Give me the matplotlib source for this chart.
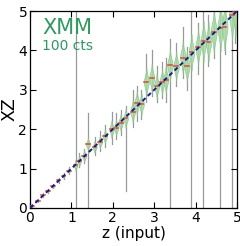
import numpy as np
import matplotlib
matplotlib.use("Agg")
import matplotlib.pyplot as plt

# violin positions (input z) and summary values
z_pos = [0.06, 0.19, 0.31, 0.44, 0.56, 0.69, 0.81, 0.94, 1.10, 1.19,
         1.31, 1.40, 1.56, 1.69, 1.81, 1.97, 2.08, 2.19, 2.31, 2.48,
         2.58, 2.69, 2.81, 2.94, 3.06, 3.19, 3.28, 3.38, 3.53, 3.69,
         3.79, 3.90, 4.06, 4.19, 4.31, 4.44, 4.60, 4.70, 4.88, 4.96]
z_med = [0.06, 0.19, 0.32, 0.44, 0.55, 0.70, 0.81, 0.95, 1.08, 1.20,
         1.32, 1.62, 1.55, 1.68, 1.82, 2.00, 2.04, 2.17, 2.28, 2.45,
         2.66, 2.64, 3.20, 3.30, 3.10, 3.20, 3.26, 3.62, 3.60, 3.82,
         3.60, 3.95, 4.08, 4.23, 4.22, 4.48, 4.58, 4.60, 4.90, 5.00]
z_lo = [0.03, 0.15, 0.27, 0.39, 0.50, 0.64, 0.74, 0.86, 0.00, 1.05,
        1.15, 0.00, 1.35, 1.45, 1.55, 1.62, 1.75, 1.85, 0.43, 2.05,
        2.20, 2.25, 2.70, 2.85, 2.70, 2.80, 2.70, 0.00, 3.10, 3.30,
        3.00, 0.00, 3.40, 0.00, 3.60, 3.80, 0.00, 3.90, 0.00, 4.20]
z_hi = [0.10, 0.23, 0.37, 0.49, 0.61, 0.76, 0.88, 1.04, 5.20, 1.40,
        1.50, 2.40, 1.80, 1.95, 2.10, 2.45, 2.40, 2.50, 2.60, 3.00,
        3.10, 3.00, 3.90, 4.00, 3.60, 3.70, 3.80, 4.30, 4.20, 4.60,
        4.10, 5.20, 4.70, 5.20, 4.90, 5.20, 5.20, 5.20, 5.20, 5.20]
# violin body extent (half height) and half width, in data units
body_h = [0.03, 0.03, 0.04, 0.04, 0.04, 0.05, 0.05, 0.08, 0.14, 0.14,
          0.15, 0.16, 0.15, 0.16, 0.18, 0.22, 0.20, 0.22, 0.24, 0.28,
          0.30, 0.28, 0.36, 0.36, 0.32, 0.32, 0.34, 0.40, 0.36, 0.42,
          0.40, 0.46, 0.46, 0.52, 0.50, 0.55, 0.60, 0.60, 0.65, 0.65]
body_w = [0.01, 0.01, 0.01, 0.015, 0.015, 0.02, 0.02, 0.03, 0.045, 0.045,
          0.05, 0.05, 0.05, 0.05, 0.05, 0.055, 0.055, 0.055, 0.055, 0.06,
          0.06, 0.06, 0.06, 0.06, 0.06, 0.06, 0.06, 0.065, 0.065, 0.065,
          0.065, 0.065, 0.065, 0.065, 0.065, 0.07, 0.07, 0.07, 0.07, 0.07]

fig = plt.figure(figsize=(2.4, 2.46), dpi=100)
ax = fig.add_axes([0.125, 0.1545, 0.8625, 0.8005])

for z, m, lo, hi, h, w in zip(z_pos, z_med, z_lo, z_hi, body_h, body_w):
    # whisker line
    ax.plot([z, z], [lo, hi], color="#999999", lw=0.9, zorder=1)
    # violin body
    t = np.linspace(-h, h, 41)
    half = w * np.exp(-0.5 * (t / (0.4 * h)) ** 2)
    ax.fill_betweenx(m + t, z - half, z + half, facecolor="#a6dba6",
                     edgecolor="#86c486", lw=0.5, alpha=0.85, zorder=2)
    # median mark
    ax.plot([z - 0.045, z + 0.045], [m, m], color="#e8452c", lw=1.1, zorder=3)

ax.plot([0, 5], [0, 5], color="#1a1a8c", lw=1.4, dashes=(2.2, 1.6), zorder=4)

ax.set_xlim(0, 5)
ax.set_ylim(0, 5)
ax.set_xticks([0, 1, 2, 3, 4, 5])
ax.set_yticks([0, 1, 2, 3, 4, 5])
ax.tick_params(direction="in", top=True, right=True, length=4, labelsize=10, pad=2)
for s in ax.spines.values():
    s.set_linewidth(0.9)
ax.set_xlabel("z (input)", fontsize=11, labelpad=1)
ax.set_ylabel("XZ", fontsize=12.5, labelpad=0)

ax.text(0.06, 0.965, "XMM", transform=ax.transAxes, color="#2e9a5e",
        fontsize=15, va="top", ha="left")
ax.text(0.06, 0.86, "100 cts", transform=ax.transAxes, color="#2e9a5e",
        fontsize=10, va="top", ha="left")

fig.savefig("out.png", dpi=100)
